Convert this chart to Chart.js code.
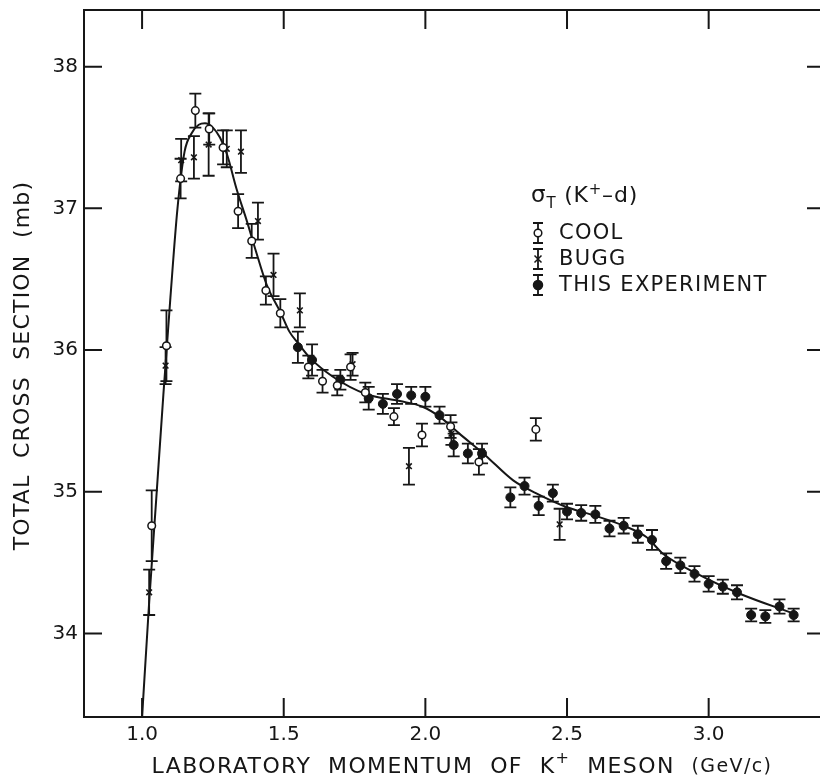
<!DOCTYPE html>
<html>
<head>
<meta charset="utf-8">
<script src="https://cdn.jsdelivr.net/npm/chart.js@4.4.0/dist/chart.umd.min.js"></script>
<style>
  body { margin: 0; background: #fff; }
  canvas { display: block; }
</style>
</head>
<body>
<canvas id="chart" width="820" height="780"></canvas>
<script>
// axis ticks
const xTicks = [1.0, 1.5, 2.0, 2.5, 3.0];
const yTicks = [34, 35, 36, 37, 38];

// COOL (open circles)
const coolX = [1.034, 1.086, 1.136, 1.188, 1.237, 1.286, 1.339, 1.387, 1.437, 1.488, 1.587, 1.637, 1.689, 1.736, 1.788, 1.889, 1.988, 2.089, 2.189, 2.390];
const coolY = [34.76, 36.03, 37.21, 37.69, 37.56, 37.43, 36.98, 36.77, 36.42, 36.26, 35.88, 35.78, 35.75, 35.88, 35.70, 35.53, 35.40, 35.46, 35.21, 35.44];
const coolErr = [0.25, 0.25, 0.14, 0.12, 0.11, 0.12, 0.12, 0.12, 0.10, 0.10, 0.08, 0.08, 0.07, 0.09, 0.07, 0.06, 0.08, 0.08, 0.09, 0.08];

// BUGG (crosses)
const buggX = [1.025, 1.083, 1.138, 1.183, 1.235, 1.299, 1.349, 1.409, 1.464, 1.557, 1.743, 1.942, 2.092, 2.474];
const buggY = [34.29, 35.89, 37.34, 37.36, 37.45, 37.42, 37.40, 36.91, 36.53, 36.28, 35.90, 35.18, 35.41, 34.77];
const buggErr = [0.16, 0.13, 0.15, 0.15, 0.22, 0.13, 0.15, 0.13, 0.15, 0.12, 0.08, 0.13, 0.08, 0.11];

// this experiment (filled circles)
const thisX = [1.55, 1.60, 1.70, 1.80, 1.85, 1.90, 1.95, 2.00, 2.05, 2.10, 2.15, 2.20, 2.30, 2.35, 2.40, 2.45, 2.50, 2.55, 2.60, 2.65, 2.70, 2.75, 2.80, 2.85, 2.90, 2.95, 3.00, 3.05, 3.10, 3.15, 3.20, 3.25, 3.30];
const thisY = [36.02, 35.93, 35.79, 35.66, 35.62, 35.69, 35.68, 35.67, 35.54, 35.33, 35.27, 35.27, 34.96, 35.04, 34.90, 34.99, 34.86, 34.85, 34.84, 34.74, 34.76, 34.70, 34.66, 34.51, 34.48, 34.42, 34.35, 34.33, 34.29, 34.13, 34.12, 34.19, 34.13];
const thisErr = [0.11, 0.11, 0.07, 0.08, 0.07, 0.07, 0.06, 0.07, 0.06, 0.08, 0.07, 0.07, 0.07, 0.06, 0.065, 0.06, 0.055, 0.055, 0.06, 0.055, 0.055, 0.06, 0.07, 0.055, 0.055, 0.055, 0.055, 0.05, 0.05, 0.045, 0.045, 0.05, 0.045];

// fitted curve
const curveX = [1.00, 1.025, 1.05, 1.075, 1.10, 1.125, 1.15, 1.175, 1.20, 1.222, 1.25, 1.275, 1.30, 1.333, 1.37, 1.40, 1.44, 1.49, 1.52, 1.55, 1.59, 1.675, 1.79, 1.91, 1.99, 2.05, 2.12, 2.21, 2.31, 2.39, 2.50, 2.60, 2.70, 2.78, 2.84, 2.96, 3.11, 3.30];
const curveY = [33.41, 34.22, 34.95, 35.68, 36.37, 37.00, 37.40, 37.53, 37.59, 37.60, 37.57, 37.50, 37.38, 37.14, 36.91, 36.71, 36.46, 36.26, 36.13, 36.05, 35.95, 35.81, 35.69, 35.64, 35.60, 35.53, 35.41, 35.26, 35.08, 34.99, 34.89, 34.83, 34.76, 34.68, 34.56, 34.42, 34.28, 34.14];

const INK = '#161616';
const FONT = '"DejaVu Sans", sans-serif';

const pts = (xs, ys) => xs.map((x, i) => ({ x: x, y: ys[i] }));
const errSets = [[coolX, coolY, coolErr], [buggX, buggY, buggErr], [thisX, thisY, thisErr]];

function errBar(ctx, px, top, bot, cap) {
    ctx.beginPath();
    ctx.moveTo(px, top); ctx.lineTo(px, bot);
    ctx.moveTo(px - cap, top); ctx.lineTo(px + cap, top);
    ctx.moveTo(px - cap, bot); ctx.lineTo(px + cap, bot);
    ctx.stroke();
}

// draws pieces of text with their own size / vertical shift
function drawParts(ctx, parts, x, y, spacing) {
    ctx.letterSpacing = spacing + 'px';
    parts.forEach(p => {
        ctx.font = p.size + 'px ' + FONT;
        ctx.fillText(p.t, x, y + (p.dy || 0));
        x += ctx.measureText(p.t).width;
    });
    return x;
}
function partsWidth(ctx, parts, spacing) {
    ctx.letterSpacing = spacing + 'px';
    let w = 0;
    parts.forEach(p => { ctx.font = p.size + 'px ' + FONT; w += ctx.measureText(p.t).width; });
    return w;
}

const decor = {
    id: 'decor',
    beforeDatasetsDraw(chart) {
        const { ctx, chartArea: a, scales: { x, y } } = chart;
        ctx.save();
        ctx.beginPath();
        ctx.rect(a.left, a.top, a.right - a.left, a.bottom - a.top);
        ctx.clip();
        ctx.strokeStyle = INK;
        ctx.lineWidth = 1.8;
        errSets.forEach(([xs, ys, es]) => {
            xs.forEach((v, i) => {
                errBar(ctx, x.getPixelForValue(v), y.getPixelForValue(ys[i] + es[i]),
                    y.getPixelForValue(ys[i] - es[i]), 6);
            });
        });
        ctx.restore();
    },
    afterDraw(chart) {
        const { ctx, chartArea: a, scales: { x, y } } = chart;
        ctx.save();
        ctx.strokeStyle = INK;
        ctx.fillStyle = INK;
        ctx.lineWidth = 2;
        // frame: right border lies just outside the picture
        ctx.beginPath();
        ctx.moveTo(a.right + 2, a.top); ctx.lineTo(a.left, a.top);
        ctx.lineTo(a.left, a.bottom); ctx.lineTo(a.right + 2, a.bottom);
        ctx.stroke();

        // inward ticks
        ctx.beginPath();
        xTicks.forEach(v => {
            const px = x.getPixelForValue(v);
            ctx.moveTo(px, a.bottom); ctx.lineTo(px, a.bottom - 19);
            ctx.moveTo(px, a.top); ctx.lineTo(px, a.top + 19);
        });
        yTicks.forEach(v => {
            const py = y.getPixelForValue(v);
            ctx.moveTo(a.left, py); ctx.lineTo(a.left + 18, py);
            ctx.moveTo(a.right + 2, py); ctx.lineTo(a.right - 13, py);
        });
        ctx.stroke();

        // axis titles
        ctx.textBaseline = 'middle';
        ctx.textAlign = 'left';
        const xt = [
            { t: 'LABORATORY  MOMENTUM  OF  K', size: 22 },
            { t: '+', size: 16, dy: -8 },
            { t: '  MESON  ', size: 22 },
            { t: '(GeV/c)', size: 19 }
        ];
        const xw = partsWidth(ctx, xt, 1.4);
        drawParts(ctx, xt, (a.left + a.right) / 2 + 10 - xw / 2, 767, 1.4);

        ctx.save();
        ctx.translate(23, (a.top + a.bottom) / 2 + 2);
        ctx.rotate(-Math.PI / 2);
        const yt = [{ t: 'TOTAL  CROSS  SECTION  (mb)', size: 22 }];
        const yw = partsWidth(ctx, yt, 1.2);
        drawParts(ctx, yt, -yw / 2, 0, 1.2);
        ctx.restore();

        // legend
        ctx.textBaseline = 'alphabetic';
        drawParts(ctx, [
            { t: 'σ', size: 23 },
            { t: 'T', size: 15, dy: 6 },
            { t: ' (K', size: 22 },
            { t: '+', size: 15, dy: -8 },
            { t: '–d)', size: 22 }
        ], 531, 202, 0.8);

        const items = [
            { label: 'COOL', y: 233, kind: 'open' },
            { label: 'BUGG', y: 259, kind: 'cross' },
            { label: 'THIS EXPERIMENT', y: 285, kind: 'dot' }
        ];
        const sx = 538;
        items.forEach(it => {
            ctx.lineWidth = 1.8;
            errBar(ctx, sx, it.y - 10, it.y + 10, 5);
            ctx.lineWidth = 1.5;
            ctx.beginPath();
            if (it.kind === 'cross') {
                ctx.moveTo(sx - 3.5, it.y - 3.5); ctx.lineTo(sx + 3.5, it.y + 3.5);
                ctx.moveTo(sx + 3.5, it.y - 3.5); ctx.lineTo(sx - 3.5, it.y + 3.5);
                ctx.stroke();
            } else {
                ctx.arc(sx, it.y, it.kind === 'dot' ? 4.5 : 3.8, 0, Math.PI * 2);
                ctx.fillStyle = it.kind === 'dot' ? INK : '#fff';
                ctx.fill();
                ctx.stroke();
            }
            ctx.fillStyle = INK;
            ctx.textBaseline = 'middle';
            drawParts(ctx, [{ t: it.label, size: 21 }], 559, it.y + 1, 1.3);
        });
        ctx.restore();
    }
};

Chart.defaults.font.family = FONT;
Chart.defaults.color = INK;

new Chart(document.getElementById('chart'), {
    type: 'scatter',
    data: {
        datasets: [
            {
                label: 'COOL',
                data: pts(coolX, coolY),
                pointStyle: 'circle',
                pointRadius: 3.8,
                backgroundColor: '#fff',
                borderColor: INK,
                borderWidth: 1.5
            },
            {
                label: 'BUGG',
                data: pts(buggX, buggY),
                pointStyle: 'crossRot',
                pointRadius: 4,
                borderColor: INK,
                borderWidth: 1.6
            },
            {
                label: 'THIS EXPERIMENT',
                data: pts(thisX, thisY),
                pointStyle: 'circle',
                pointRadius: 4.5,
                backgroundColor: INK,
                borderColor: INK,
                borderWidth: 1
            },
            {
                label: 'fit',
                data: pts(curveX, curveY),
                showLine: true,
                cubicInterpolationMode: 'monotone',
                pointRadius: 0,
                borderColor: INK,
                borderWidth: 2
            }
        ]
    },
    options: {
        responsive: false,
        animation: false,
        layout: { autoPadding: false, padding: { top: 10, right: 0, left: 0, bottom: 0 } },
        plugins: { legend: { display: false }, tooltip: { enabled: false } },
        scales: {
            x: {
                type: 'linear',
                min: 0.795,
                max: 3.393,
                grid: { display: false, drawTicks: false },
                border: { display: false },
                afterBuildTicks: s => { s.ticks = xTicks.map(v => ({ value: v })); },
                afterFit: s => { s.height = 63; s.paddingLeft = 0; s.paddingRight = 0; },
                ticks: {
                    padding: 6,
                    font: { size: 20 },
                    callback: v => v.toFixed(1)
                }
            },
            y: {
                type: 'linear',
                min: 33.41,
                max: 38.40,
                grid: { display: false, drawTicks: false },
                border: { display: false },
                afterBuildTicks: s => { s.ticks = yTicks.map(v => ({ value: v })); },
                afterFit: s => { s.width = 84; s.paddingTop = 0; s.paddingBottom = 0; },
                ticks: {
                    padding: 6,
                    font: { size: 20 },
                    callback: v => String(v)
                }
            }
        }
    },
    plugins: [decor]
});
</script>
</body>
</html>
